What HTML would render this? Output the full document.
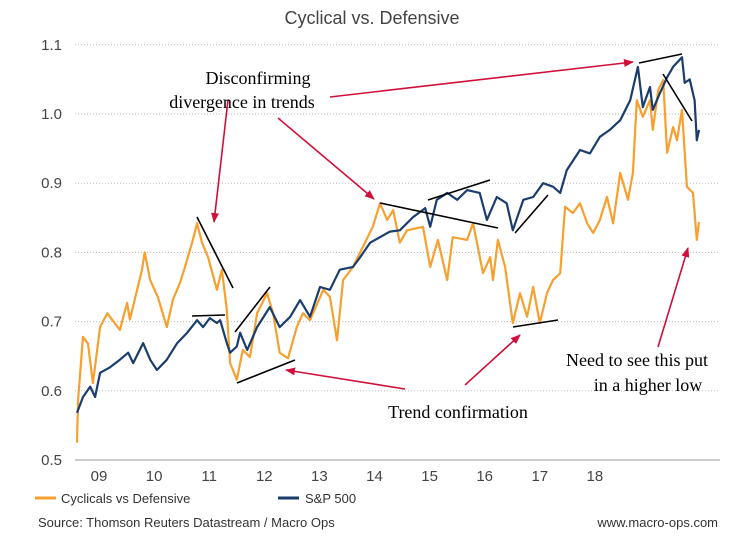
<!DOCTYPE html>
<html><head><meta charset="utf-8"><style>
body{margin:0;background:#fff;}
svg text{font-family:"Liberation Sans",sans-serif;}
.serif{font-family:"Liberation Serif",serif !important;font-size:18px;fill:#000;}
</style></head><body>
<svg id="chart" width="745" height="548" viewBox="0 0 745 548" xmlns="http://www.w3.org/2000/svg">
<defs><marker id="ah" markerWidth="10" markerHeight="8" refX="9" refY="4" orient="auto" markerUnits="userSpaceOnUse"><path d="M0,0 L10,4 L0,8 z" fill="#d0103a"/></marker></defs>
<text x="372" y="24" text-anchor="middle" font-size="18" fill="#444">Cyclical vs. Defensive</text>
<g id="grid"></g><g id="yticks"></g><g id="xticks"></g>
<g id="series"></g>
<g id="annot" stroke="#000" stroke-width="1.6">
<line x1="197" y1="217" x2="233" y2="288"/>
<line x1="192" y1="316" x2="225" y2="315"/>
<line x1="235" y1="332" x2="270" y2="287"/>
<line x1="237" y1="383" x2="295" y2="360"/>
<line x1="380" y1="203" x2="498" y2="228"/>
<line x1="428" y1="200" x2="490" y2="180"/>
<line x1="515" y1="233" x2="548" y2="195"/>
<line x1="513" y1="327" x2="558" y2="320"/>
<line x1="639" y1="63" x2="682" y2="54"/>
<line x1="663" y1="74" x2="692" y2="121"/>
</g>
<g stroke="#d0103a" stroke-width="1.6" marker-end="url(#ah)">
<line x1="228" y1="100" x2="214" y2="222"/>
<line x1="330" y1="97" x2="633" y2="62"/>
<line x1="278" y1="118" x2="374" y2="199"/>
<line x1="405" y1="389" x2="286" y2="370"/>
<line x1="465" y1="385" x2="520" y2="335"/>
<line x1="658" y1="347" x2="688" y2="248"/>
</g>
<text class="serif" x="258" y="84" text-anchor="middle">Disconfirming</text>
<text class="serif" x="242" y="108" text-anchor="middle">divergence in trends</text>
<text class="serif" x="458" y="418" text-anchor="middle">Trend confirmation</text>
<text class="serif" x="637" y="366" text-anchor="middle">Need to see this put</text>
<text class="serif" x="648" y="391" text-anchor="middle">in a higher low</text>
<line x1="35" y1="498" x2="56" y2="498" stroke="#f7a030" stroke-width="3"/>
<text x="61" y="503" font-size="13" fill="#333">Cyclicals vs Defensive</text>
<line x1="278" y1="498" x2="299" y2="498" stroke="#1a3d6e" stroke-width="3"/>
<text x="305" y="503" font-size="13" fill="#333">S&amp;P 500</text>
<text x="38" y="527" font-size="13" fill="#333">Source: Thomson Reuters Datastream / Macro Ops</text>
<text x="718" y="527" font-size="13" fill="#333" text-anchor="end">www.macro-ops.com</text>
</svg>
<script>
const yTicks=[0.5,0.6,0.7,0.8,0.9,1.0,1.1];
const xTickLabels=["09","10","11","12","13","14","15","16","17","18"];
const xTickYears=[2009,2010,2011,2012,2013,2014,2015,2016,2017,2018];
const cycT=[2008.60,2008.62,2008.71,2008.80,2008.89,2009.02,2009.15,2009.38,2009.51,2009.56,2009.78,2009.83,2009.93,2010.07,2010.23,2010.34,2010.47,2010.56,2010.69,2010.78,2010.87,2010.98,2011.14,2011.23,2011.32,2011.38,2011.50,2011.61,2011.74,2011.87,2012.05,2012.16,2012.28,2012.43,2012.59,2012.70,2012.83,2013.07,2013.19,2013.32,2013.43,2013.61,2013.79,2013.97,2014.10,2014.23,2014.34,2014.46,2014.59,2014.88,2015.01,2015.15,2015.32,2015.42,2015.68,2015.79,2015.97,2016.10,2016.15,2016.24,2016.37,2016.51,2016.64,2016.77,2016.88,2017.00,2017.13,2017.24,2017.37,2017.46,2017.60,2017.73,2017.86,2017.97,2018.09,2018.22,2018.33,2018.46,2018.60,2018.69,2018.76,2018.87,2019.00,2019.05,2019.15,2019.24,2019.31,2019.42,2019.49,2019.58,2019.67,2019.78,2019.85,2019.89];
const cycV=[0.525,0.587,0.678,0.668,0.611,0.692,0.712,0.688,0.727,0.703,0.775,0.800,0.760,0.735,0.692,0.731,0.756,0.779,0.814,0.842,0.814,0.793,0.746,0.775,0.717,0.640,0.616,0.659,0.649,0.712,0.741,0.712,0.655,0.647,0.692,0.712,0.702,0.746,0.736,0.673,0.760,0.779,0.808,0.837,0.871,0.847,0.861,0.814,0.832,0.837,0.779,0.818,0.760,0.822,0.818,0.842,0.770,0.793,0.760,0.818,0.779,0.698,0.741,0.707,0.750,0.698,0.741,0.760,0.770,0.866,0.857,0.871,0.842,0.828,0.847,0.880,0.842,0.915,0.876,0.915,1.020,0.996,1.020,0.977,1.035,1.049,0.944,0.981,0.962,1.006,0.895,0.886,0.818,0.844];
const spT=[2008.60,2008.71,2008.84,2008.93,2009.02,2009.20,2009.38,2009.53,2009.62,2009.80,2009.93,2010.05,2010.23,2010.42,2010.60,2010.78,2010.89,2011.01,2011.14,2011.20,2011.32,2011.38,2011.50,2011.56,2011.69,2011.87,2012.10,2012.28,2012.47,2012.65,2012.83,2013.01,2013.19,2013.37,2013.61,2013.74,2013.92,2014.10,2014.28,2014.46,2014.70,2014.92,2015.01,2015.13,2015.32,2015.50,2015.68,2015.91,2016.04,2016.22,2016.40,2016.51,2016.70,2016.88,2017.06,2017.24,2017.37,2017.49,2017.73,2017.91,2018.09,2018.27,2018.46,2018.64,2018.78,2018.87,2019.00,2019.05,2019.18,2019.31,2019.42,2019.58,2019.63,2019.72,2019.81,2019.85,2019.89];
const spV=[0.568,0.591,0.606,0.591,0.626,0.634,0.645,0.655,0.640,0.669,0.645,0.630,0.645,0.669,0.684,0.702,0.692,0.705,0.698,0.702,0.669,0.655,0.664,0.684,0.659,0.692,0.721,0.692,0.707,0.731,0.707,0.750,0.746,0.775,0.779,0.793,0.814,0.822,0.830,0.832,0.851,0.864,0.837,0.876,0.886,0.876,0.890,0.886,0.847,0.880,0.871,0.832,0.876,0.880,0.900,0.895,0.886,0.919,0.948,0.943,0.967,0.977,0.991,1.020,1.068,1.010,1.039,1.006,1.030,1.053,1.068,1.082,1.045,1.050,1.020,0.962,0.977];
const NS="http://www.w3.org/2000/svg";
const X0=75,X1=720;
function xs(t){return 99+(t-2009)*55.1;}
function ys(v){return 460-(v-0.5)*692;}
function mk(tag,attrs,parent){const e=document.createElementNS(NS,tag);for(const k in attrs)e.setAttribute(k,attrs[k]);parent.appendChild(e);return e;}
const grid=document.getElementById('grid'),yt=document.getElementById('yticks'),xt=document.getElementById('xticks'),ser=document.getElementById('series');
yTicks.forEach(v=>{
 const l=mk('line',{x1:X0,x2:X1,y1:ys(v),y2:ys(v),stroke:'#bbb','stroke-width':1,'stroke-dasharray':'1,2'},grid);
 
 
 const t=mk('text',{x:62,y:ys(v)+5,'text-anchor':'end','font-size':15,fill:'#444'},yt);
 t.textContent=v.toFixed(1);
 
 
});
const ax=mk('line',{x1:X0,x2:X1,y1:ys(0.5),y2:ys(0.5),stroke:'#999','stroke-width':1},grid);


xTickLabels.forEach((s,i)=>{
 const t=mk('text',{x:xs(xTickYears[i]),y:481,'text-anchor':'middle','font-size':15,fill:'#444'},xt);
 t.textContent=s;
 
 
});
function path(T,V){return T.map((t,i)=>(i?'L':'M')+xs(t).toFixed(1)+','+ys(V[i]).toFixed(1)).join(' ');}
const p1=mk('path',{d:path(cycT,cycV),fill:'none',stroke:'#f7a030','stroke-width':2.2,'stroke-linejoin':'round'},ser);


const p2=mk('path',{d:path(spT,spV),fill:'none',stroke:'#1a3d6e','stroke-width':2.2,'stroke-linejoin':'round'},ser);


</script>
</body></html>
